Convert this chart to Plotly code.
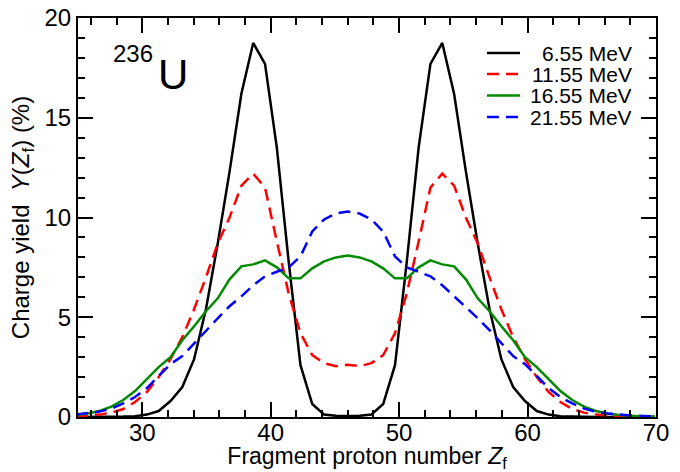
import plotly.graph_objects as go

z_f = [24.84, 25.76, 26.68, 27.60, 28.52, 29.44, 30.36, 31.28, 32.20, 33.12,
       34.04, 34.96, 35.88, 36.80, 37.72, 38.64, 39.56, 40.48, 41.40, 42.32,
       43.24, 44.16, 45.08, 46.00, 46.92, 47.84, 48.76, 49.68, 50.60, 51.52,
       52.44, 53.36, 54.28, 55.20, 56.12, 57.04, 57.96, 58.88, 59.80, 60.72,
       61.64, 62.56, 63.48, 64.40, 65.32, 66.24, 67.16, 68.08, 69.00, 69.92]

y_6_55 = [0.00, 0.00, 0.00, 0.01, 0.02, 0.04, 0.12, 0.30, 0.80, 1.50,
          2.90, 5.40, 8.70, 12.30, 16.20, 18.75, 17.70, 13.50, 7.80, 2.60,
          0.65, 0.12, 0.06, 0.05, 0.06, 0.12, 0.65, 2.60, 7.80, 13.50,
          17.70, 18.75, 16.20, 12.30, 8.70, 5.40, 2.90, 1.50, 0.80, 0.30,
          0.12, 0.04, 0.02, 0.01, 0.00, 0.00, 0.00, 0.00, 0.00, 0.00]

y_11_55 = [0.04, 0.07, 0.12, 0.22, 0.40, 0.75, 1.25, 2.00, 2.90, 4.00,
           5.40, 7.00, 8.70, 10.00, 11.60, 12.20, 11.50, 8.80, 6.20, 4.20,
           3.10, 2.70, 2.55, 2.62, 2.55, 2.70, 3.10, 4.20, 6.20, 8.80,
           11.50, 12.20, 11.60, 10.00, 8.70, 7.00, 5.40, 4.00, 2.90, 2.00,
           1.25, 0.75, 0.40, 0.22, 0.12, 0.07, 0.04, 0.02, 0.01, 0.01]

y_16_55 = [0.10, 0.18, 0.30, 0.52, 0.85, 1.30, 1.90, 2.50, 3.00, 3.85,
           4.55, 5.30, 5.95, 6.90, 7.55, 7.65, 7.85, 7.50, 6.95, 6.95,
           7.45, 7.80, 8.00, 8.10, 8.00, 7.80, 7.45, 6.95, 6.95, 7.50,
           7.85, 7.65, 7.55, 6.90, 5.95, 5.30, 4.55, 3.85, 3.00, 2.50,
           1.90, 1.30, 0.85, 0.52, 0.30, 0.18, 0.10, 0.05, 0.03, 0.02]

y_21_55 = [0.12, 0.18, 0.27, 0.42, 0.68, 1.00, 1.45, 2.05, 2.65, 3.05,
           3.70, 4.35, 4.95, 5.55, 6.05, 6.60, 7.05, 7.28, 7.50, 8.05,
           9.30, 9.90, 10.20, 10.30, 10.20, 9.90, 9.30, 8.05, 7.50, 7.28,
           7.05, 6.60, 6.05, 5.55, 4.95, 4.35, 3.70, 3.05, 2.65, 2.05,
           1.45, 1.00, 0.68, 0.42, 0.27, 0.18, 0.12, 0.07, 0.05, 0.03]

series_names = ["6.55 MeV", "11.55 MeV", "16.55 MeV", "21.55 MeV"]
series_values = [y_6_55, y_11_55, y_16_55, y_21_55]
series_colors = ["#000000", "#ff0000", "#008b00", "#0000ff"]
series_dash = ["solid", "12px,7px", "solid", "12px,7px"]

FONT = "Liberation Sans, Arial, sans-serif"

fig = go.Figure()
for name, vals, col, dash in zip(series_names, series_values, series_colors, series_dash):
    fig.add_trace(go.Scatter(x=z_f, y=vals, mode="lines", name=name,
                             line=dict(color=col, width=2.5, dash=dash),
                             showlegend=False))

# manual legend (rows tightly spaced as in the reference)
leg_y = [0.9123, 0.8596, 0.8058, 0.7519]
for name, col, dash, yy in zip(series_names, series_colors, series_dash, leg_y):
    fig.add_shape(type="line", xref="paper", yref="paper",
                  x0=0.7076, x1=0.7647, y0=yy, y1=yy,
                  line=dict(color=col, width=2.5, dash=dash))
    fig.add_annotation(xref="paper", yref="paper", x=0.9602, y=yy,
                       text=name, showarrow=False, xanchor="right", yanchor="middle",
                       height=20, valign="middle", borderpad=0,
                       font=dict(family=FONT, size=21, color="black"))

# nucleus label
fig.add_annotation(xref="x", yref="y", x=31.0, y=18.2, text="236", showarrow=False,
                   xanchor="right", yanchor="middle",
                   font=dict(family=FONT, size=24, color="black"))
fig.add_annotation(xref="x", yref="y", x=31.05, y=17.15, text="U", showarrow=False,
                   xanchor="left", yanchor="middle",
                   font=dict(family=FONT, size=42, color="black"))

axis_common = dict(showline=True, linecolor="black", linewidth=2, mirror="allticks",
                   ticks="inside", tickcolor="black", tickwidth=1.5, ticklen=15,
                   showgrid=False, zeroline=False, automargin=False,
                   tickfont=dict(family=FONT, size=24, color="black"))

fig.update_xaxes(range=[25, 70], tick0=0, dtick=10, ticklabelstandoff=-7,
                 minor=dict(dtick=2, ticks="inside", ticklen=7, tickwidth=1.5,
                            tickcolor="black", showgrid=False),
                 title=dict(text="Fragment proton number <i>Z</i><sub>f</sub>",
                            font=dict(family=FONT, size=23, color="black"), standoff=0),
                 **axis_common)
fig.update_yaxes(range=[0, 20], tick0=0, dtick=5,
                 minor=dict(dtick=1, ticks="inside", ticklen=7, tickwidth=1.5,
                            tickcolor="black", showgrid=False),
                 title=dict(text="Charge yield\u00a0\u00a0<i>Y</i>(<i>Z</i><sub>f</sub>) (%)",
                            font=dict(family=FONT, size=24, color="black"), standoff=8),
                 **axis_common)

fig.update_layout(width=680, height=472,
                  margin=dict(l=78, r=24, t=18, b=55),
                  paper_bgcolor="white", plot_bgcolor="white",
                  font=dict(family=FONT, color="black"))

fig.write_html("out.html")
